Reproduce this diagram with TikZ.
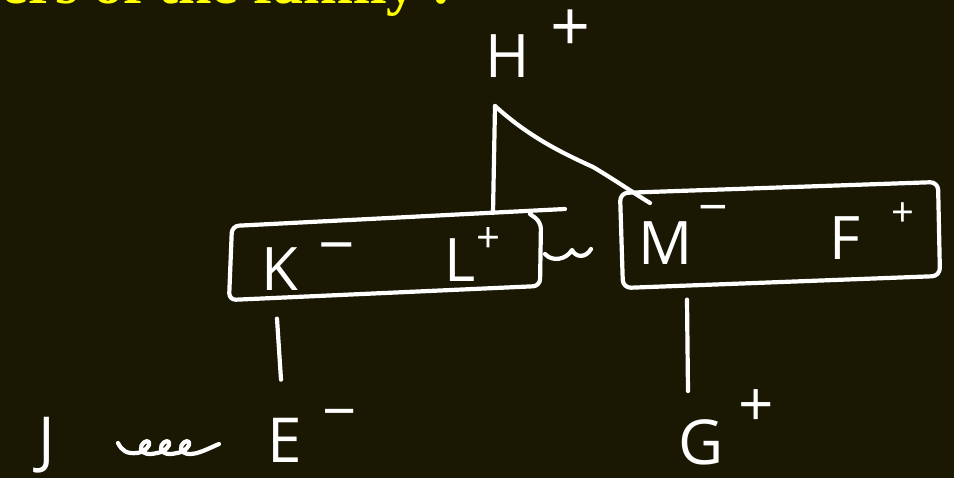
\documentclass[tikz,border=0pt]{standalone}
\usepackage{fontspec}
\setmainfont{Liberation Serif}
\newfontfamily\handfont{Open Sans}
\usetikzlibrary{positioning,calc}
\definecolor{board}{RGB}{26,24,3}
\definecolor{chalkyellow}{RGB}{255,255,0}
\tikzset{
pen/.style={
draw=white,
line width=4.2pt,
line cap=round,
line join=round
},
person/.style={
text=white,
inner sep=0pt,
font=\handfont\fontsize{#1}{#1}\selectfont
},
person/.default=60,
sign/.style={
text=white,
inner sep=0pt,
anchor=north,
font=\handfont\fontsize{#1}{#1}\selectfont
},
sign/.default=60,
heading/.style={
text=chalkyellow,
inner sep=0pt,
font=\bfseries\fontsize{60}{60}\selectfont
}
}

\begin{document}
\begin{tikzpicture}[x=1pt,y=-1pt]
\fill[board] (0,0) rectangle (954,478);
\clip (0,0) rectangle (954,478);
\useasboundingbox (0,0) rectangle (954,478);

\node[heading,anchor=base east](title) at (452,4){members of the family :};

% people
\node[person](h) at (508,56){H};
\node[person](k) at (280,269){K};
\node[person](l) at (460,260){L};
\node[person](m) at (666,243){M};
\node[person](f) at (845,238){F};
\node[person=62](j) at (47,445){J};
\node[person=62](e) at (285,440){E};
\node[person=62](g) at (701,442){G};

% charges
\node[sign=70](hs) at (571,10){+};
\node[sign=64](ks) at (337,243){−};
\node[sign=42](ls) at (489,227){+};
\node[sign=52](ms) at (713,205){−};
\node[sign=40](fs) at (903,202){+};
\node[sign=60](es) at (340,409){−};
\node[sign=62](gs) at (756,389){+};

% couples
\draw[pen,rounded corners=7pt] (565,209) -- (232,226) -- (229,300) -- (540,286) -- (541,222) -- (530,214);
\draw[pen,rounded corners=8pt] (620,193) -- (938,182) -- (940,276) -- (623,288) -- cycle;

\coordinate (hroot) at (495,106);
\coordinate (hfoot) at (493,213);
\coordinate (mtip) at (650,203);
\coordinate (kltail) at (545,254);
\coordinate (mfhead) at (591,249);
\coordinate (jwed) at (118,443);
\coordinate (ewed) at (219,444);

\draw[pen](hroot)--(hfoot);
\draw[pen](hroot) .. controls (528,136) and (560,152) .. (593,167) .. controls (615,180) and (632,192) .. (mtip);
\draw[pen](kltail) .. controls (552,262) and (566,260) .. (572,250) .. controls (576,258) and (586,258) .. (mfhead);

% children
\draw[pen]([xshift=-3pt,yshift=-28pt]k.south)--([xshift=-4pt,yshift=38pt]e.north);
\draw[pen]([xshift=21pt,yshift=-35pt]m.south)--([xshift=-13pt,yshift=28pt]g.north);
\draw[pen](jwed) .. controls (122,451) and (127,454) .. (137,453)
\foreach \x in {137,157,177}{
 .. controls (\x+8,452) and (\x+14,445) .. (\x+12,442)
 .. controls (\x+10,439) and (\x+3,444) .. (\x+4,449)
 .. controls (\x+5,454) and (\x+12,455) .. (\x+20,453)
} .. controls (204,451) and (212,447) .. (ewed);
\end{tikzpicture}
\end{document}
